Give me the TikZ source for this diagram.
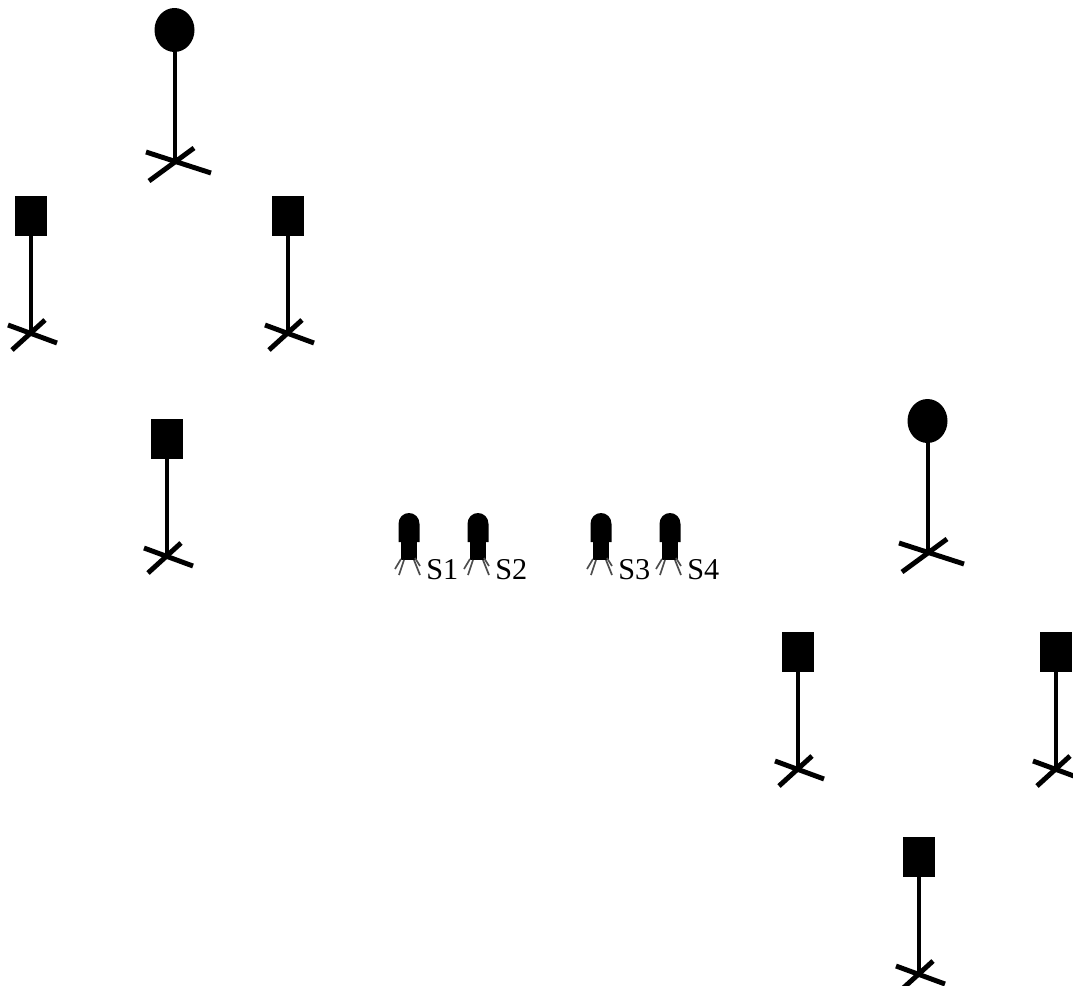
\documentclass[tikz,border=0pt]{standalone}
\usepackage{fontspec}
\setmainfont{Liberation Serif}
\tikzset{
    stem/.style={line width=3.5pt},
    leg/.style={line width=3.5pt},
    wire/.style={line width=1.2pt,draw=black!70},
    % loudspeaker on a stand, origin at the foot of the stem
    pics/bigfoot/.style={code={
        \draw[leg] (-29,-9)--(36,12);
        \draw[leg] (-26,20)--(19,-13);
    }},
    pics/smallfoot/.style={code={
        \draw[leg] (-23,-6)--(26,12);
        \draw[leg] (-19,19)--(14,-11);
    }},
    pics/roundstand/.style={code={
        \fill (-0.5,-131) ellipse (20 and 22);
        \draw[stem] (0,-131)--(0,0);
        \pic {bigfoot};
    }},
    pics/squarestand/.style={code={
        \fill (-16,-135)rectangle(16,-95);
        \draw[stem] (0,-100)--(0,0);
        \pic {smallfoot};
    }},
    % sensor, origin at the top of its head
    pics/sensorbulb/.style={code={
        \fill (-10.5,29)--(-10.5,11) .. controls (-10.5,4.5) and (-5.8,0) .. (0,0)
            .. controls (5.8,0) and (10.5,4.5) .. (10.5,11)--(10.5,29)--cycle;
        \fill (-8,28)rectangle(7.5,47);
        \draw[wire] (-8,46)--(-14,56);
        \draw[wire] (-5,47)--(-10,62);
        \draw[wire] (5,47)--(11,62);
        \draw[wire] (6,45)--(11,53);
    }},
    sensorlabel/.style={anchor=base west,inner sep=0pt,font=\fontsize{21.5pt}{24pt}\selectfont}
}
\begin{document}
\begin{tikzpicture}[x=0.025cm,y=-0.025cm]
    \useasboundingbox (0,0) rectangle (1073,986);

    \pic at (175,161) {roundstand};
    \pic at (928,552) {roundstand};

    \foreach \x/\y in {31/331,288/331,167/554,798/767,1056/767,919/972}
        \pic at (\x,\y) {squarestand};

    \foreach \x/\n in {409/1,478/2,601/3,670/4}{
        \pic at (\x,513) {sensorbulb};
        \node[sensorlabel] (s\n) at (\x+17,579) {S\n};
    }
\end{tikzpicture}
\end{document}
